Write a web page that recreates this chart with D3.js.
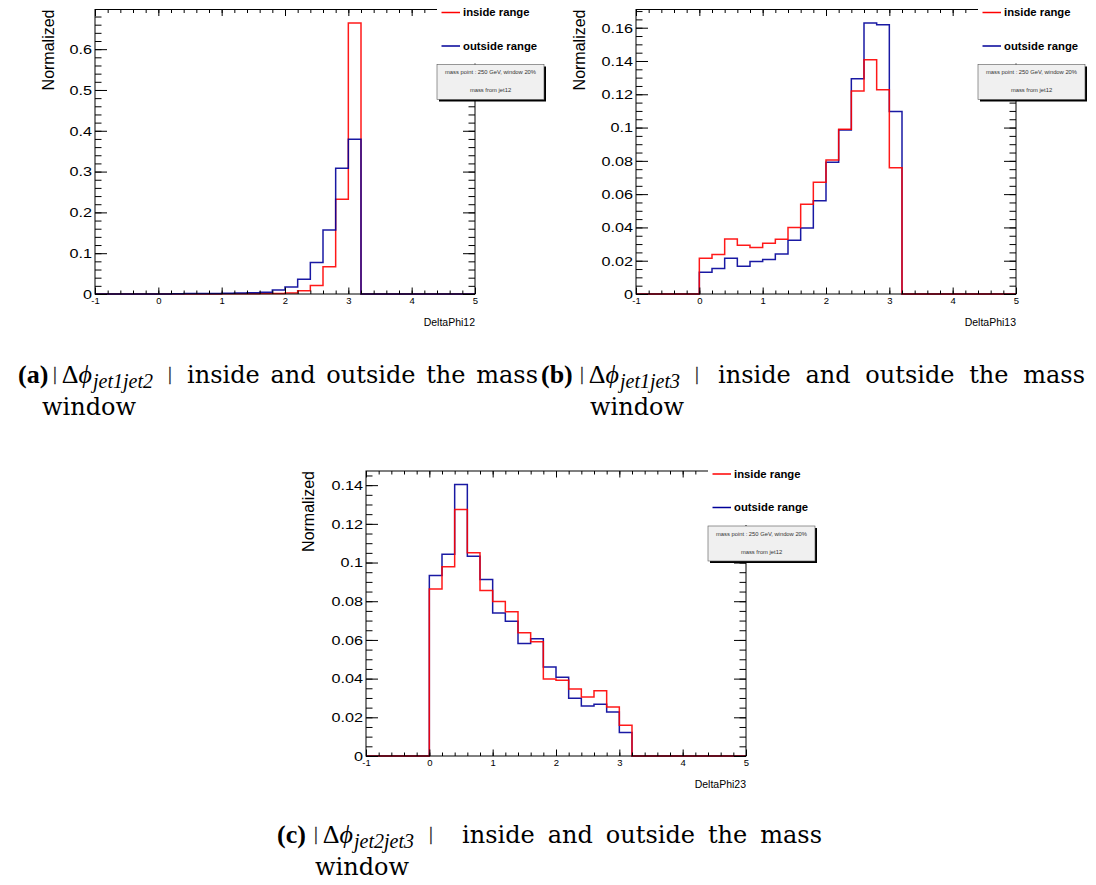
<!DOCTYPE html>
<html>
<head>
<meta charset="utf-8">
<script src="https://cdn.jsdelivr.net/npm/d3@7"></script>
<style>
body { margin: 0; background: #fff; }
svg text { font-family: "Liberation Sans", Arial, sans-serif; }
</style>
</head>
<body>
<div id="main"></div>
<script>
// histogram bins: lower edges, width 0.2 (everything outside is empty)
var binLow = [0, 0.2, 0.4, 0.6, 0.8, 1.0, 1.2, 1.4, 1.6, 1.8, 2.0, 2.2, 2.4, 2.6, 2.8, 3.0];
var binWidth = 0.2;
var xDomain = [-1, 5];
var xTicks = [-1, 0, 1, 2, 3, 4, 5];

// DeltaPhi12
var phi12Inside  = [0, 0, 0, 0.0003, 0.0003, 0.0005, 0.0006, 0.0008, 0.001, 0.0012, 0.0025, 0.008, 0.021, 0.067, 0.232, 0.664];
var phi12Outside = [0, 0.0008, 0.001, 0.0012, 0.0014, 0.0017, 0.0022, 0.003, 0.004, 0.0099, 0.017, 0.036, 0.077, 0.157, 0.308, 0.379];
var yTicks12 = [0, 0.1, 0.2, 0.3, 0.4, 0.5, 0.6];

// DeltaPhi13
var phi13Inside  = [0.0215, 0.0237, 0.0331, 0.0293, 0.0279, 0.0305, 0.0329, 0.0400, 0.0540, 0.0671, 0.0805, 0.0990, 0.1219, 0.1407, 0.1227, 0.0759];
var phi13Outside = [0.0130, 0.0153, 0.0215, 0.0167, 0.0195, 0.0207, 0.0241, 0.0323, 0.0396, 0.0560, 0.0791, 0.0986, 0.1293, 0.1628, 0.1618, 0.1096];
var yTicks13 = [0, 0.02, 0.04, 0.06, 0.08, 0.1, 0.12, 0.14, 0.16];

// DeltaPhi23
var phi23Inside  = [0.0863, 0.0978, 0.1274, 0.1050, 0.0855, 0.0798, 0.0746, 0.0637, 0.0590, 0.0398, 0.0391, 0.0346, 0.0305, 0.0337, 0.0253, 0.0159];
var phi23Outside = [0.0933, 0.1043, 0.1403, 0.1033, 0.0912, 0.0739, 0.0697, 0.0581, 0.0606, 0.0460, 0.0407, 0.0298, 0.0258, 0.0268, 0.0227, 0.0121];
var yTicks23 = [0, 0.02, 0.04, 0.06, 0.08, 0.1, 0.12, 0.14];

var legendNames = ["inside range", "outside range"];
var infoLines = ["mass point : 250 GeV, window 20%", "mass from jet12"];

var RED = "#ff0000", BLUE = "#000099";

var svg = d3.select("#main").append("svg")
	.attr("width", 1096)
	.attr("height", 885);

var panels = [
	{ left: 95,  right: 475,  top: 9.5, bottom: 294, inside: phi12Inside, outside: phi12Outside,
	  yTicks: yTicks12, yMinor: 0.02,  xTitle: "DeltaPhi12", yTitleX: 54,  blueOnTop: true },
	{ left: 636, right: 1016, top: 9.5, bottom: 294, inside: phi13Inside, outside: phi13Outside,
	  yTicks: yTicks13, yMinor: 0.005, xTitle: "DeltaPhi13", yTitleX: 585, blueOnTop: false },
	{ left: 366, right: 746,  top: 471, bottom: 756, inside: phi23Inside, outside: phi23Outside,
	  yTicks: yTicks23, yMinor: 0.005, xTitle: "DeltaPhi23", yTitleX: 314, blueOnTop: false }
];

function histPoints(vals) {
	var pts = [[xDomain[0], 0], [binLow[0], 0]];
	vals.forEach(function(v, i) {
		pts.push([binLow[i], v]);
		pts.push([binLow[i] + binWidth, v]);
	});
	pts.push([binLow[binLow.length - 1] + binWidth, 0]);
	pts.push([xDomain[1], 0]);
	return pts;
}

panels.forEach(function(p) {
	var g = svg.append("g");
	var yMax = 1.05 * d3.max(p.inside.concat(p.outside));

	var x = d3.scaleLinear().domain(xDomain).range([p.left, p.right]);
	var y = d3.scaleLinear().domain([0, yMax]).range([p.bottom, p.top]);

	var line = d3.line()
		.x(function(d) { return x(d[0]); })
		.y(function(d) { return y(d[1]); });

	var order = p.blueOnTop ? [[p.inside, RED], [p.outside, BLUE]] : [[p.outside, BLUE], [p.inside, RED]];
	order.forEach(function(s) {
		g.append("path")
			.attr("d", line(histPoints(s[0])))
			.attr("fill", "none")
			.attr("stroke", s[1])
			.attr("stroke-width", 1.5)
			.attr("stroke-opacity", 0.9);
	});

	// frame
	g.append("rect")
		.attr("x", p.left).attr("y", p.top)
		.attr("width", p.right - p.left).attr("height", p.bottom - p.top)
		.attr("fill", "none").attr("stroke", "#000").attr("stroke-width", 1);

	var xMinor = d3.range(xDomain[0], xDomain[1] + 1e-6, 0.2);
	var yMinor = d3.range(0, yMax, p.yMinor);

	function clean(sel) { sel.select(".domain").remove(); }

	// minor ticks, all four sides
	g.append("g").attr("transform", "translate(0," + p.bottom + ")")
		.call(d3.axisBottom(x).tickValues(xMinor).tickSize(-3.5).tickFormat("")).call(clean);
	g.append("g").attr("transform", "translate(0," + p.top + ")")
		.call(d3.axisTop(x).tickValues(xMinor).tickSize(-3.5).tickFormat("")).call(clean);
	g.append("g").attr("transform", "translate(" + p.left + ",0)")
		.call(d3.axisLeft(y).tickValues(yMinor).tickSize(-6.5).tickFormat("")).call(clean);
	g.append("g").attr("transform", "translate(" + p.right + ",0)")
		.call(d3.axisRight(y).tickValues(yMinor).tickSize(-6.5).tickFormat("")).call(clean);

	// major ticks + labels
	var xAx = g.append("g").attr("transform", "translate(0," + p.bottom + ")")
		.call(d3.axisBottom(x).tickValues(xTicks).tickSize(-6.5).tickPadding(3)
			.tickFormat(function(d) { return String(d); })).call(clean);
	xAx.selectAll("text").attr("font-size", 9.5).attr("font-family", "Liberation Sans, Arial, sans-serif").attr("fill", "#000");
	g.append("g").attr("transform", "translate(0," + p.top + ")")
		.call(d3.axisTop(x).tickValues(xTicks).tickSize(-6.5).tickFormat("")).call(clean);

	var yAx = g.append("g").attr("transform", "translate(" + p.left + ",0)")
		.call(d3.axisLeft(y).tickValues(p.yTicks).tickSize(-12).tickFormat(function(d) { return String(d); })).call(clean);
	yAx.selectAll("text")
		.attr("x", 0)
		.attr("transform", "translate(-3,0) scale(1.2,1)")
		.attr("font-size", 13.5).attr("font-family", "Liberation Sans, Arial, sans-serif").attr("fill", "#000");
	g.append("g").attr("transform", "translate(" + p.right + ",0)")
		.call(d3.axisRight(y).tickValues(p.yTicks).tickSize(-12).tickFormat("")).call(clean);

	// axis titles
	g.append("text")
		.attr("transform", "translate(" + p.yTitleX + "," + p.top + ") rotate(-90)")
		.attr("text-anchor", "end")
		.attr("font-size", 16)
		.text("Normalized");
	g.append("text")
		.attr("x", p.right).attr("y", p.bottom + 32)
		.attr("text-anchor", "end")
		.attr("font-size", 10.5)
		.text(p.xTitle);

	// legend (white box, no border) covering the top right corner
	var lx = p.right - 38, ly = p.top;
	g.append("rect")
		.attr("x", lx).attr("y", ly - 10).attr("width", 108).attr("height", 64)
		.attr("fill", "#fff");
	[RED, BLUE].forEach(function(c, i) {
		var yy = ly + 3 + i * 33.5;
		g.append("line")
			.attr("x1", lx + 4.5).attr("x2", lx + 23)
			.attr("y1", yy).attr("y2", yy)
			.attr("stroke", c).attr("stroke-width", 1.5);
		g.append("text")
			.attr("x", lx + 26).attr("y", yy + 3.5)
			.attr("font-size", 11.3).attr("font-weight", "bold")
			.text(legendNames[i]);
	});

	// info pave with shadow
	g.append("rect")
		.attr("x", lx + 2).attr("y", ly + 57).attr("width", 107).attr("height", 35)
		.attr("fill", "#000");
	g.append("rect")
		.attr("x", lx).attr("y", ly + 55).attr("width", 107).attr("height", 35)
		.attr("fill", "#f0f0f0").attr("stroke", "#555").attr("stroke-width", 0.6);
	infoLines.forEach(function(t, i) {
		g.append("text")
			.attr("x", lx + 53.5).attr("y", ly + 64.5 + i * 18)
			.attr("text-anchor", "middle")
			.attr("font-size", 5.8).attr("fill", "#333")
			.text(t);
	});
});

// sub-figure captions
var captions = [
	{ tag: "(a)", sub: "jet1jet2", x: 18, mathX: 53, phraseX: 187, phraseEnd: 538, y: 383, winX: 42 },
	{ tag: "(b)", sub: "jet1jet3", x: 541, mathX: 580, phraseX: 718, phraseEnd: 1085, y: 383, winX: 590 },
	{ tag: "(c)", sub: "jet2jet3", x: 277, mathX: 314, phraseX: 462, phraseEnd: 822, y: 843, winX: 315 }
];

var serif = "Liberation Serif, Times New Roman, serif";
var bookSerif = "DejaVu Serif, serif";
captions.forEach(function(c) {
	var g = svg.append("g").attr("font-family", serif).attr("font-size", 26).attr("fill", "#000");
	g.append("text").attr("x", c.x).attr("y", c.y).attr("font-weight", "bold").style("font-family", serif).text(c.tag);
	var m = g.append("text").attr("x", c.mathX).attr("y", c.y).style("font-family", serif);
	m.append("tspan").attr("font-size", 19).attr("fill", "#222").attr("stroke", "#222").attr("stroke-width", 0.3).attr("dy", -3).text("|");
	m.append("tspan").attr("dy", 3).attr("dx", 5).text("\u0394");
	m.append("tspan").attr("font-style", "italic").text("\u03d5");
	m.append("tspan").attr("font-style", "italic").attr("font-size", 20).attr("dy", 5).attr("dx", 1).text(c.sub);
	m.append("tspan").attr("font-size", 19).attr("fill", "#222").attr("stroke", "#222").attr("stroke-width", 0.3).attr("dy", -8).attr("dx", 15).text("|");
	var ph = g.append("text").attr("x", c.phraseX).attr("y", c.y)
		.style("font-family", bookSerif).attr("font-size", 24)
		.text("inside and outside the mass");
	var natural = ph.node().getComputedTextLength();
	ph.style("word-spacing", ((c.phraseEnd - c.phraseX - natural) / 4) + "px");
	g.append("text").attr("x", c.winX).attr("y", c.y + 32)
		.style("font-family", bookSerif).attr("font-size", 24)
		.text("window");
});
</script>
</body>
</html>
